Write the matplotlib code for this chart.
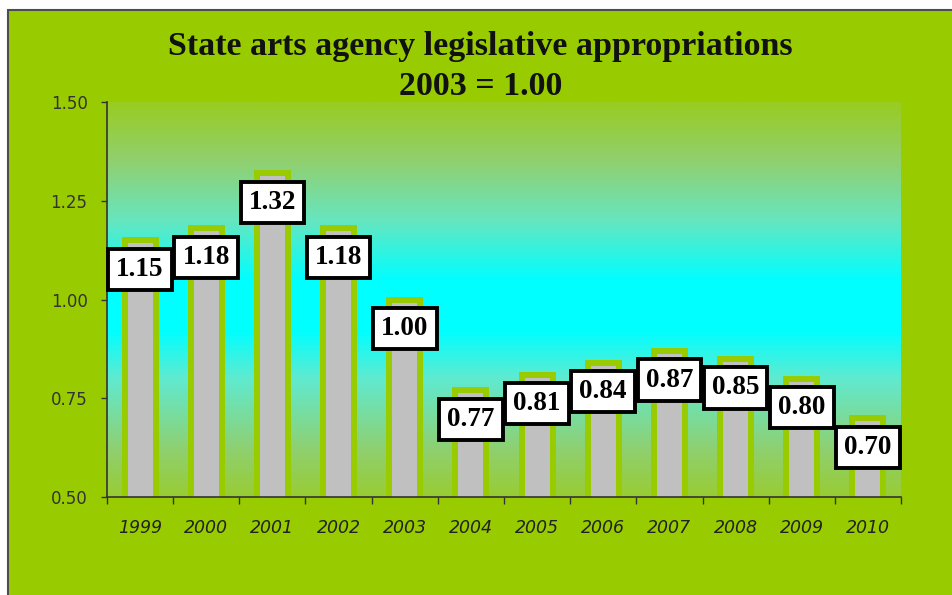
import numpy as np
import matplotlib.pyplot as plt
from matplotlib.colors import LinearSegmentedColormap
from matplotlib.patches import Rectangle

years = ['1999', '2000', '2001', '2002', '2003', '2004',
         '2005', '2006', '2007', '2008', '2009', '2010']
index_values = [1.15, 1.18, 1.32, 1.18, 1.00, 0.77,
                0.81, 0.84, 0.87, 0.85, 0.80, 0.70]
y_ticks = [0.50, 0.75, 1.00, 1.25, 1.50]

GREEN = '#99CC00'
BAR_GRAY = '#C0C0C0'

fig = plt.figure(figsize=(9.53, 5.95), dpi=100, facecolor='white')

# green slide panel with a thin dark border on the top and left
panel = Rectangle((8 / 953, -0.1), 1.2, 1.1 - 10 / 595, transform=fig.transFigure,
                  facecolor=GREEN, edgecolor='#4d4d4d', linewidth=1.5, zorder=-10)
fig.patches.append(panel)

fig.text(0.504, 1 - 55 / 595, 'State arts agency legislative appropriations',
         ha='center', va='baseline', family='Liberation Serif', fontweight='bold',
         fontsize=24.5, color='#111')
fig.text(0.504, 1 - 95 / 595, '2003 = 1.00',
         ha='center', va='baseline', family='Liberation Serif', fontweight='bold',
         fontsize=24.5, color='#111')

ax = fig.add_axes([107 / 953, 1 - 497 / 595, (901 - 107) / 953, (497 - 102) / 595])
ax.patch.set_visible(False)

# plot-area fill: green at top and bottom, cyan band through the middle
grad_cmap = LinearSegmentedColormap.from_list(
    'plot_fill', [(0.0, '#99CC33'), (0.12, '#8FD070'), (0.3, '#60EAD0'),
                  (0.42, '#00FFFF'), (0.55, '#00FFFF'), (0.7, '#66E6C0'),
                  (0.85, '#90D070'), (1.0, '#99CC22')])
grad = np.linspace(0, 1, 256).reshape(-1, 1)
ax.imshow(grad, cmap=grad_cmap, origin='lower', aspect='auto',
          extent=[0, 1, 0, 1], transform=ax.transAxes, zorder=0)

x = np.arange(len(years))
ax.bar(x, index_values, width=0.47, color=BAR_GRAY, edgecolor=GREEN,
       linewidth=4.3, zorder=2)

for xi, v in zip(x, index_values):
    ax.annotate(f'{v:.2f}', xy=(xi, v), xytext=(0, -21), textcoords='offset points',
                ha='center', va='center', family='Liberation Serif', fontweight='bold',
                fontsize=19.5, color='black', zorder=4,
                bbox=dict(boxstyle='square,pad=0.3', facecolor='white',
                          edgecolor='black', linewidth=2.8))

ax.set_xlim(-0.5, len(years) - 0.5)
ax.set_ylim(0.5, 1.5)

ax.set_yticks(y_ticks)
ax.set_yticklabels([f'{t:.2f}' for t in y_ticks])
ax.tick_params(axis='y', direction='out', length=4, width=1, color='#333',
               pad=10, labelsize=12, labelcolor='#333')

# tick marks between categories, year labels centred under bars
ax.set_xticks(np.arange(len(years) + 1) - 0.5)
ax.set_xticklabels([])
ax.set_xticks(x, minor=True)
ax.set_xticklabels(years, minor=True, fontstyle='italic')
ax.tick_params(axis='x', which='major', direction='out', length=5, width=1, color='#333')
ax.tick_params(axis='x', which='minor', length=0, pad=16, labelsize=12.5, labelcolor='#222')

for side in ['top', 'right']:
    ax.spines[side].set_visible(False)
for side in ['left', 'bottom']:
    ax.spines[side].set_color('#333')
    ax.spines[side].set_linewidth(1.2)
    ax.spines[side].set_zorder(3)

fig.savefig('out.png', dpi=100, facecolor='white')
